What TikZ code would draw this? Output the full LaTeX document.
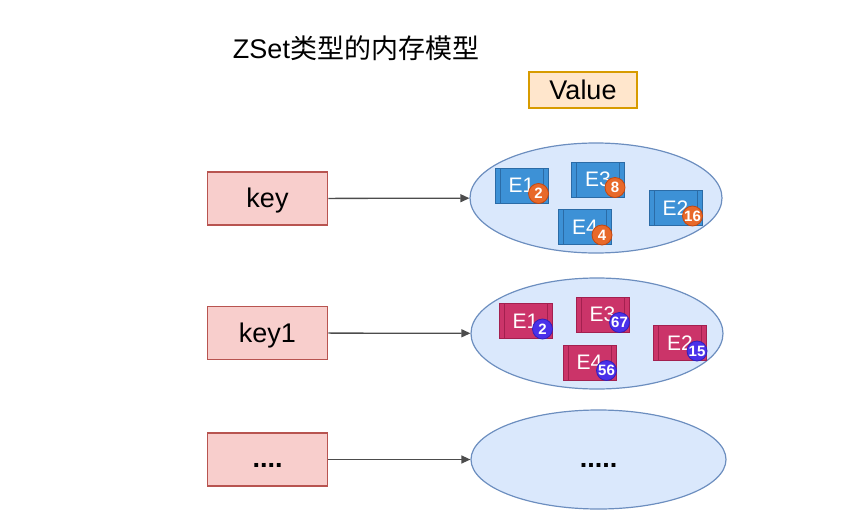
\documentclass[tikz,border=0pt]{standalone}
\usepackage{fontspec}
\setmainfont{Liberation Sans}
\newfontfamily\cjk{Noto Sans CJK SC}
\usepackage{tikz}
\usetikzlibrary{positioning,arrows.meta,shapes.geometric,calc}
\definecolor{kred}{HTML}{F8CECC}
\definecolor{kredd}{HTML}{B85450}
\definecolor{vorg}{HTML}{FFE6CC}
\definecolor{vorgd}{HTML}{D79B00}
\definecolor{eblue}{HTML}{DAE8FC}
\definecolor{ebblued}{HTML}{6C8EBF}
\definecolor{mblue}{HTML}{3D91D6}
\definecolor{mblued}{HTML}{2B6BA6}
\definecolor{mpink}{HTML}{CB3469}
\definecolor{mpinkd}{HTML}{A3204F}
\definecolor{borg}{HTML}{E8692A}
\definecolor{borgd}{HTML}{C4470F}
\definecolor{bpur}{HTML}{4A31EA}
\definecolor{bpurd}{HTML}{3320B8}
\newcommand{\lowtxt}[2]{\smash{\raisebox{-#1pt}{#2}}}

\begin{document}
\begin{tikzpicture}[x=1pt, y=-1pt, font=\fontsize{27}{30}\selectfont,
  keybox/.style={draw=kredd, fill=kred, line width=1.5pt, minimum width=120pt, minimum height=53pt},
  valbox/.style={draw=vorgd, fill=vorg, line width=1.2pt, minimum width=108pt, minimum height=36pt},
  zset/.style={ellipse, draw=ebblued, fill=eblue, line width=1.2pt, inner sep=0pt},
  mem/.style={draw=#1d, fill=#1, line width=1pt, minimum width=53pt, minimum height=35pt, inner sep=0pt,
    text=white, font=\fontsize{21}{24}\selectfont,
    path picture={\draw[#1d, line width=1pt]
      ([xshift=5pt]path picture bounding box.north west) -- ([xshift=5pt]path picture bounding box.south west)
      ([xshift=-5pt]path picture bounding box.north east) -- ([xshift=-5pt]path picture bounding box.south east);}},
  score/.style={circle, draw=#1d, fill=#1, line width=0.8pt, minimum size=20pt, inner sep=0pt,
    text=white, font=\bfseries\fontsize{15}{17}\selectfont},
  arr/.style={-{Triangle[length=9pt, width=8pt]}, line width=1.3pt, draw=black!70}]
\useasboundingbox (0,0) rectangle (859,522);
\node (title) at (356,48) {ZSet{\cjk 类型的内存模型}};
\node[valbox] (val) at (583,90) {Value};

\node[keybox] (k1) at (267.5,198.5) {\lowtxt{8.5}{key}};
\node[keybox] (k2) at (267.5,333) {\lowtxt{9}{key1}};
\node[keybox] (k3) at (267.5,459.5) {\lowtxt{7.5}{\textbf{....}}};

\node[zset, minimum width=252pt, minimum height=110pt] (z1) at (596,198) {};
\node[zset, minimum width=252pt, minimum height=111pt] (z2) at (597,333.5) {};
\node[zset, minimum width=255pt, minimum height=99pt] (z3) at (598.5,459.5) {\lowtxt{7.5}{\textbf{.....}}};

\draw[arr] (k1) -- (z1);
\draw[arr] (k2) -- (z2);
\draw[arr] (k3) -- (z3);

% first zset
\node[mem=mblue] (a1) at (521.5,185.5) {E1\hspace{4pt}};
\node[mem=mblue] (a3) at (598,179.5) {E3\hspace{4pt}};
\node[mem=mblue] (a2) at (675.5,208) {E2\hspace{4pt}};
\node[mem=mblue] (a4) at (585,227) {E4\hspace{4pt}};
\node[score=borg] (sa1) at ($(a1.south east)+(-10,-10)$) {2};
\node[score=borg] (sa3) at ($(a3.south east)+(-10,-10)$) {8};
\node[score=borg] (sa2) at ($(a2.south east)+(-10,-10)$) {16};
\node[score=borg] (sa4) at ($(a4.south east)+(-10,-10)$) {4};

% second zset
\node[mem=mpink] (b1) at (525.5,321) {E1\hspace{4pt}};
\node[mem=mpink] (b3) at (602.5,314.5) {E3\hspace{4pt}};
\node[mem=mpink] (b2) at (680,343) {E2\hspace{4pt}};
\node[mem=mpink] (b4) at (589.5,362.5) {E4\hspace{4pt}};
\node[score=bpur] (sb1) at ($(b1.south east)+(-10,-10)$) {2};
\node[score=bpur] (sb3) at ($(b3.south east)+(-10,-10)$) {67};
\node[score=bpur] (sb2) at ($(b2.south east)+(-10,-10)$) {15};
\node[score=bpur] (sb4) at ($(b4.south east)+(-10,-10)$) {56};
\end{tikzpicture}
\end{document}
